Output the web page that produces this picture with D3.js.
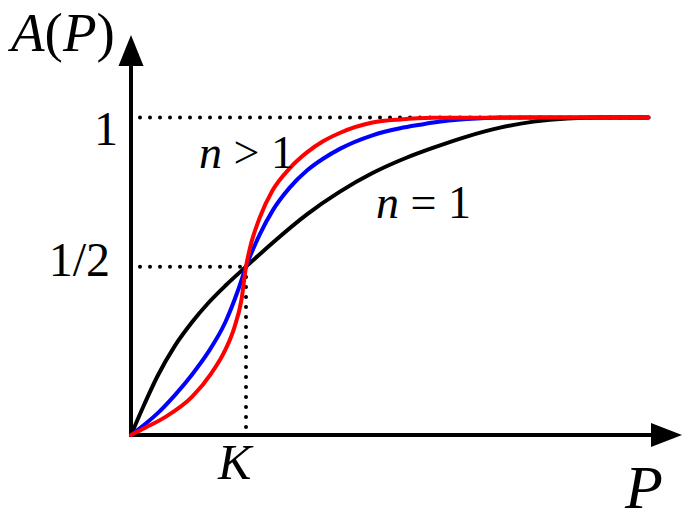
<!DOCTYPE html>
<html>
<head>
<meta charset="utf-8">
<script src="https://cdn.jsdelivr.net/npm/d3@7"></script>
<style>
  html, body { margin: 0; padding: 0; background: #fff; }
  svg { display: block; }
  text { font-family: "Liberation Serif", "Times New Roman", "DejaVu Serif", serif; fill: #000; }
</style>
</head>
<body>
<svg id="chart" width="691" height="520"></svg>
<script>
// ---- data (P in units of K, A in units of full activity) ----
const blackP = [0, 0.12, 0.23, 0.38, 0.53, 0.67, 0.82, 1.0, 1.23, 1.53, 1.81, 2.1, 2.4, 2.63, 2.92, 3.21, 3.5, 3.79, 4.08, 4.5];
const blackA = [0, 0.10, 0.185, 0.28, 0.355, 0.415, 0.47, 0.53, 0.605, 0.695, 0.765, 0.825, 0.874, 0.905, 0.94, 0.968, 0.987, 0.997, 1.0, 1.0];

const blueP = [0, 0.23, 0.38, 0.53, 0.67, 0.82, 0.93, 1.0, 1.12, 1.23, 1.38, 1.53, 1.67, 1.82, 2.1, 2.34, 2.51, 2.63, 2.92, 3.21, 4.5];
const blueA = [0, 0.068, 0.125, 0.19, 0.26, 0.355, 0.455, 0.53, 0.632, 0.706, 0.779, 0.833, 0.870, 0.902, 0.944, 0.966, 0.977, 0.984, 0.995, 1.0, 1.0];

const redP = [0, 0.12, 0.30, 0.53, 0.70, 0.82, 0.90, 0.96, 1.0, 1.035, 1.12, 1.23, 1.38, 1.53, 1.67, 1.82, 2.1, 2.34, 2.63, 4.5];
const redA = [0, 0.022, 0.057, 0.120, 0.195, 0.268, 0.340, 0.425, 0.53, 0.59, 0.685, 0.77, 0.84, 0.89, 0.925, 0.952, 0.984, 0.994, 0.999, 1.0];

const yTickValues = [0.53, 1.0];
const yTickLabels = ["1/2", "1"];
const xTickValues = [1.0];
const xTickLabels = ["K"];
const halfPoint = {P: 1.0, A: 0.53};
const curveEnd = 4.5;

// ---- scales ----
const svg = d3.select("#chart");
const x = d3.scaleLinear().domain([0, 1]).range([131, 246]);
const y = d3.scaleLinear().domain([0, 1]).range([435, 117.5]);

// ---- dotted guide lines ----
const dotted = (sel) => sel.attr("stroke", "#000").attr("stroke-width", 4)
  .attr("stroke-linecap", "round").attr("stroke-dasharray", "0,10").attr("fill", "none");

svg.append("line").call(dotted)
  .attr("x1", x(0) + 9).attr("x2", x(curveEnd)).attr("y1", y(1)).attr("y2", y(1));
svg.append("line").call(dotted)
  .attr("x1", x(0) + 9).attr("x2", x(halfPoint.P)).attr("y1", y(halfPoint.A)).attr("y2", y(halfPoint.A));
svg.append("line").call(dotted)
  .attr("x1", x(halfPoint.P)).attr("x2", x(halfPoint.P)).attr("y1", y(0) - 8).attr("y2", y(halfPoint.A));

// ---- axes with arrows ----
const x0 = x(0), y0 = y(0);
svg.append("line").attr("x1", x0).attr("x2", x0).attr("y1", y0 + 2).attr("y2", 62)
  .attr("stroke", "#000").attr("stroke-width", 4);
svg.append("path").attr("d", `M${x0},35 L${x0 - 12.5},66 L${x0 + 12.5},66 Z`).attr("fill", "#000");
svg.append("line").attr("x1", x0 - 2).attr("x2", 655).attr("y1", y0).attr("y2", y0)
  .attr("stroke", "#000").attr("stroke-width", 4);
svg.append("path").attr("d", `M682,${y0} L651,${y0 - 12} L651,${y0 + 12} Z`).attr("fill", "#000");

// ---- curves ----
const line = d3.line().x(d => x(d[0])).y(d => y(d[1])).curve(d3.curveMonotoneX);
const series = [
  {P: blackP, A: blackA, color: "#000000"},
  {P: blueP, A: blueA, color: "#0000ff"},
  {P: redP, A: redA, color: "#ff0000"}
];
series.forEach(s => {
  svg.append("path").datum(d3.zip(s.P, s.A)).attr("d", line)
    .attr("fill", "none").attr("stroke", s.color).attr("stroke-width", 4)
    .attr("stroke-linejoin", "round").attr("stroke-linecap", "round");
});

// ---- tick labels ----
const serif = '"Liberation Serif", "Times New Roman", serif';
const yLabelOffsets = [[-21, 9], [-13, 27]];
yTickValues.forEach((v, i) => {
  svg.append("text").attr("x", x0 + yLabelOffsets[i][0]).attr("y", y(v) + yLabelOffsets[i][1])
    .attr("font-family", serif).attr("text-anchor", "end").attr("font-size", 48).text(yTickLabels[i]);
});
xTickValues.forEach((v, i) => {
  svg.append("text").attr("x", x(v) - 28).attr("y", 479).attr("font-family", serif)
    .attr("font-size", 50).attr("font-style", "italic").text(xTickLabels[i]);
});

// ---- axis titles ----
const yTitle = svg.append("text").attr("x", 11).attr("y", 51).attr("font-size", 55).attr("font-family", serif);
yTitle.append("tspan").attr("font-style", "italic").text("A");
yTitle.append("tspan").text("(");
yTitle.append("tspan").attr("font-style", "italic").text("P");
yTitle.append("tspan").text(")");

svg.append("text").attr("x", 625).attr("y", 508).attr("font-size", 62).attr("font-family", serif)
  .attr("font-style", "italic").text("P");

// ---- annotations ----
const ann1 = svg.append("text").attr("x", 199).attr("y", 168).attr("font-size", 46).attr("font-family", serif);
ann1.append("tspan").attr("font-style", "italic").text("n");
ann1.append("tspan").text(" > 1");

const ann2 = svg.append("text").attr("x", 376).attr("y", 218).attr("font-size", 46).attr("font-family", serif);
ann2.append("tspan").attr("font-style", "italic").text("n");
ann2.append("tspan").text(" = 1");
</script>
</body>
</html>
